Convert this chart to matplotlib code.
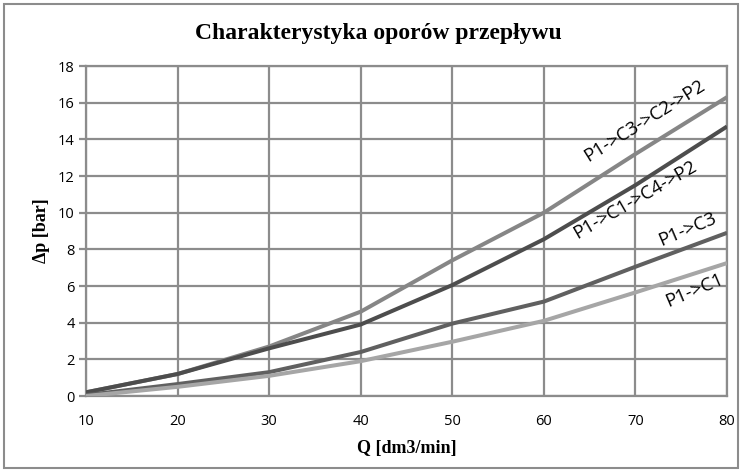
import matplotlib
matplotlib.use("Agg")
import matplotlib.pyplot as plt
from matplotlib.patches import Rectangle

q = [10, 20, 30, 40, 50, 60, 70, 80]
s_c3c2 = [0.2, 1.2, 2.7, 4.6, 7.4, 10.0, 13.2, 16.3]
s_c1c4 = [0.2, 1.2, 2.6, 3.9, 6.05, 8.55, 11.5, 14.7]
s_c3 = [0.05, 0.65, 1.3, 2.4, 3.95, 5.15, 7.05, 8.9]
s_c1 = [0.0, 0.5, 1.1, 1.9, 2.96, 4.1, 5.65, 7.25]
labels = ["P1->C3->C2->P2", "P1->C1->C4->P2", "P1->C3", "P1->C1"]
yticks = [0, 2, 4, 6, 8, 10, 12, 14, 16, 18]
xticks = [10, 20, 30, 40, 50, 60, 70, 80]

fig = plt.figure(figsize=(7.42, 4.72), dpi=100)
fig.patches.append(Rectangle((0.006, 0.008), 0.988, 0.984, transform=fig.transFigure,
                             fill=False, edgecolor="#8c8c8c", linewidth=1.5))
W, H = 742, 472
ax = fig.add_axes([86 / W, 1 - 396 / H, (727 - 86) / W, (396 - 66) / H])

colors = ["#868686", "#4d4d4d", "#606060", "#a6a6a6"]
series = [s_c3c2, s_c1c4, s_c3, s_c1]
for s, c in zip(series, colors):
    ax.plot(q, s, color=c, linewidth=2.9, solid_capstyle="butt", zorder=3)

ax.set_xlim(10, 80)
ax.set_ylim(0, 18)
ax.set_xticks(xticks)
ax.set_yticks(yticks)
ax.grid(True, color="#8c8c8c", linewidth=1.6)
for sp in ax.spines.values():
    sp.set_color("#8c8c8c")
    sp.set_linewidth(1.6)
ax.tick_params(axis="y", length=5, width=1.6, color="#8c8c8c", pad=3)
ax.tick_params(axis="x", length=0, pad=13)
tf = "Open Sans"
for lab in ax.get_xticklabels() + ax.get_yticklabels():
    lab.set_fontfamily(tf)
    lab.set_fontsize(10.5)

ax.set_xlabel("Q [dm3/min]", family="Liberation Serif", weight="bold", fontsize=13, labelpad=8)
ax.set_ylabel("Δp [bar]", family="Liberation Serif", weight="bold", fontsize=13, labelpad=6)
fig.text(378 / W, 1 - 33 / H, "Charakterystyka oporów przepływu", family="Liberation Serif",
         weight="bold", fontsize=17, ha="center", va="center")

lab_pos = [(71.0, 15.0, 32), (69.9, 10.7, 30), (75.7, 9.1, 23), (76.4, 5.75, 23)]
for (x, y, r), t in zip(lab_pos, labels):
    ax.text(x, y, t, family=tf, fontsize=13.5, rotation=r, ha="center", va="center",
            rotation_mode="anchor", zorder=4)

fig.savefig("out.png", dpi=100)
